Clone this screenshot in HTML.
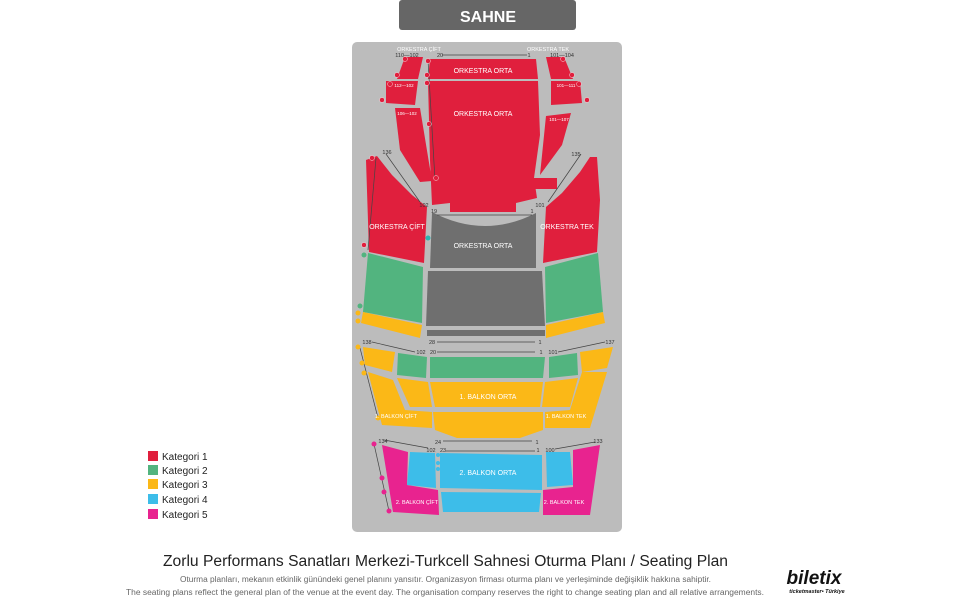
<!DOCTYPE html>
<html><head><meta charset="utf-8"><style>
html,body{margin:0;padding:0;background:#fff;}
svg{display:block;font-family:"Liberation Sans",sans-serif;}
</style></head><body>
<svg width="975" height="600" viewBox="0 0 975 600" xmlns="http://www.w3.org/2000/svg">
<rect x="399" y="0" width="177" height="30" rx="3" fill="#666"/>
<text x="488" y="22" text-anchor="middle" font-size="16" font-weight="bold" fill="#fff">SAHNE</text>
<rect x="352" y="42" width="270" height="490" rx="5" fill="#bcbcbc"/>

<g fill="#e01f3d">
<polygon points="430,59 536,59 538,79 428,79"/>
<polygon points="428,81 538,81 540,135 534,178 537,198 516,203 516,213 450,213 450,203 432,205 430,160"/>
<polygon points="405,57 423,57 418,79 397,79"/>
<polygon points="386,81 418,81 415,105 386,103"/>
<polygon points="395,108 420,108 432,181 420,182 400,150"/>
<polygon points="546,57 564,57 573,79 551,79"/>
<polygon points="551,81 580,81 582,103 551,105"/>
<polygon points="546,116 571,113 562,145 540,175"/>
<rect x="531" y="178" width="26" height="11"/>
<polygon points="366,160 377,156 392,175 412,195 427,207 424,263 369,252"/>
<polygon points="546,207 562,193 580,172 590,157 597,157 600,200 597,252 543,263"/>
</g>
<g fill="#6f6f6f">
<path d="M432,213 L536,213 L536,268 L430,268 Z" />
<path d="M428,271 L542,271 L545,326 L426,326 Z"/>
<rect x="427" y="330" width="118" height="6"/>
</g>
<path d="M432,212 Q485,240 538,212 Z" fill="#bcbcbc"/>
<g fill="#52b47f">
<polygon points="368,253 423,267 422,323 363,312"/>
<polygon points="545,267 598,253 603,312 546,323"/>
<polygon points="398,353 427,357 426,378 397,375"/>
<polygon points="430,357 545,357 543,378 430,378"/>
<polygon points="549,357 577,353 578,375 549,378"/>
</g>
<g fill="#fbb817">
<polygon points="363,312 422,325 420,338 361,323"/>
<polygon points="546,325 603,312 605,323 546,338"/>
<polygon points="363,347 395,352 392,372 365,365"/>
<polygon points="580,352 613,347 607,368 582,372"/>
<polygon points="368,372 393,380 405,410 432,412 432,428 382,425"/>
<polygon points="397,378 428,382 432,407 410,407"/>
<polygon points="430,382 543,382 540,407 435,407"/>
<polygon points="433,412 543,412 543,430 520,438 457,438 435,430"/>
<polygon points="545,382 578,378 570,407 542,407"/>
<polygon points="582,372 607,372 590,428 545,428 545,412 570,410"/>
</g>
<g fill="#e8238f">
<polygon points="382,445 408,452 407,485 438,490 439,515 393,512"/>
<polygon points="573,450 600,445 590,515 543,515 543,490 573,487"/>
</g>
<g fill="#3dbde9">
<polygon points="410,452 435,453 436,488 407,485"/>
<polygon points="440,453 542,455 542,490 440,488"/>
<polygon points="441,492 541,493 539,512 443,512"/>
<polygon points="546,452 570,452 573,485 547,487"/>
</g>

<g stroke="#444" stroke-width="0.7">
<line x1="442" y1="55" x2="527" y2="55"/>
<line x1="376" y1="158" x2="368" y2="250"/>
<line x1="386" y1="154" x2="420" y2="202"/>
<line x1="581" y1="154" x2="548" y2="202"/>
<line x1="437" y1="215" x2="532" y2="215"/>
<line x1="437" y1="342" x2="535" y2="342"/>
<line x1="372" y1="342" x2="415" y2="352"/>
<line x1="437" y1="352" x2="535" y2="352"/>
<line x1="558" y1="352" x2="605" y2="342"/>
<line x1="360" y1="348" x2="378" y2="418"/>
<line x1="443" y1="441" x2="532" y2="441"/>
<line x1="384" y1="440" x2="428" y2="448"/>
<line x1="446" y1="451" x2="535" y2="451"/>
<line x1="555" y1="449" x2="595" y2="442"/>
<line x1="374" y1="444" x2="389" y2="511"/>
<line x1="428" y1="60" x2="435" y2="180"/>
</g>

<g fill="#e01f3d" stroke="#fff" stroke-width="0.4">
<circle cx="405" cy="59" r="2.5"/><circle cx="397" cy="75" r="2.5"/><circle cx="390" cy="84" r="2.5"/><circle cx="382" cy="100" r="2.5"/>
<circle cx="428" cy="61" r="2.5"/><circle cx="427" cy="75" r="2.5"/><circle cx="427" cy="83" r="2.5"/><circle cx="429" cy="124" r="2.5"/><circle cx="436" cy="178" r="2.5"/>
<circle cx="563" cy="59" r="2.5"/><circle cx="572" cy="75" r="2.5"/><circle cx="579" cy="84" r="2.5"/><circle cx="587" cy="100" r="2.5"/>
<circle cx="372" cy="158" r="2.5"/><circle cx="364" cy="245" r="2.5"/>
</g>
<circle cx="428" cy="238" r="2.5" fill="#2bb3b0"/>
<circle cx="364" cy="255" r="2.5" fill="#52b47f"/><circle cx="360" cy="306" r="2.5" fill="#52b47f"/>
<g fill="#fbb817"><circle cx="358" cy="313" r="2.5"/><circle cx="358" cy="321" r="2.5"/><circle cx="358" cy="347" r="2.5"/><circle cx="362" cy="363" r="2.5"/><circle cx="364" cy="373" r="2.5"/><circle cx="378" cy="418" r="2.5"/></g>
<g fill="#3dbde9"><circle cx="438" cy="455" r="2"/><circle cx="438" cy="463" r="2"/><circle cx="438" cy="469" r="2"/></g>
<g fill="#e8238f"><circle cx="374" cy="444" r="2.5"/><circle cx="382" cy="478" r="2.5"/><circle cx="384" cy="492" r="2.5"/><circle cx="389" cy="511" r="2.5"/></g>

<g fill="#fff" font-size="7" text-anchor="middle">
<text x="419" y="51" font-size="5.5">ORKESTRA ÇİFT</text>
<text x="548" y="51" font-size="5.5">ORKESTRA TEK</text>
<text x="483" y="73">ORKESTRA ORTA</text>
<text x="483" y="116">ORKESTRA ORTA</text>
<text x="397" y="229">ORKESTRA ÇİFT</text>
<text x="567" y="229">ORKESTRA TEK</text>
<text x="483" y="248">ORKESTRA ORTA</text>
<text x="488" y="399">1. BALKON ORTA</text>
<text x="396" y="418" font-size="5.5">1. BALKON ÇİFT</text>
<text x="566" y="418" font-size="5.5">1. BALKON TEK</text>
<text x="488" y="475">2. BALKON ORTA</text>
<text x="417" y="504" font-size="5.5">2. BALKON ÇİFT</text>
<text x="564" y="504" font-size="5.5">2. BALKON TEK</text>
<text x="404" y="87" font-size="4.5">112—102</text>
<text x="566" y="87" font-size="4.5">101—111</text>
<text x="407" y="115" font-size="4.5">106—102</text>
<text x="559" y="121" font-size="4.5">101—107</text>
</g>
<g fill="#333" font-size="5.5" text-anchor="middle">
<text x="407" y="57">110—102</text><text x="440" y="57">20</text><text x="529" y="57">1</text><text x="562" y="57">101—104</text>
<text x="387" y="154">136</text><text x="576" y="156">135</text>
<text x="424" y="207">102</text><text x="540" y="207">101</text>
<text x="434" y="213">19</text><text x="532" y="213">1</text>
<text x="432" y="344">28</text><text x="540" y="344">1</text>
<text x="367" y="344">138</text><text x="421" y="354">102</text><text x="433" y="354">20</text><text x="541" y="354">1</text><text x="553" y="354">101</text><text x="610" y="344">137</text>
<text x="438" y="444">24</text><text x="537" y="444">1</text>
<text x="383" y="443">134</text><text x="431" y="452">102</text><text x="443" y="452">23</text><text x="538" y="452">1</text><text x="550" y="452">100</text><text x="598" y="443">133</text>
</g>

<g font-size="10" fill="#222">
<rect x="148" y="451" width="10" height="10" fill="#e01f3d"/><text x="162" y="460">Kategori 1</text>
<rect x="148" y="465" width="10" height="10" fill="#52b47f"/><text x="162" y="474">Kategori 2</text>
<rect x="148" y="479" width="10" height="10" fill="#fbb817"/><text x="162" y="488">Kategori 3</text>
<rect x="148" y="494" width="10" height="10" fill="#3dbde9"/><text x="162" y="503">Kategori 4</text>
<rect x="148" y="509" width="10" height="10" fill="#e8238f"/><text x="162" y="518">Kategori 5</text>
</g>

<text x="163" y="566" font-size="15.5" fill="#222" textLength="565" lengthAdjust="spacingAndGlyphs">Zorlu Performans Sanatları Merkezi-Turkcell Sahnesi Oturma Planı / Seating Plan</text>
<text x="180" y="582" font-size="8" fill="#666" textLength="531" lengthAdjust="spacingAndGlyphs">Oturma planları, mekanın etkinlik günündeki genel planını yansıtır. Organizasyon firması oturma planı ve yerleşiminde değişiklik hakkına sahiptir.</text>
<text x="126" y="595" font-size="8" fill="#666" textLength="638" lengthAdjust="spacingAndGlyphs">The seating plans reflect the general plan of the venue at the event day. The organisation company reserves the right to change seating plan and all relative arrangements.</text>
<text x="814" y="584" text-anchor="middle" font-size="19" font-weight="bold" font-style="italic" fill="#111">biletix</text>
<text x="817" y="593" text-anchor="middle" font-size="5.5" font-weight="bold" font-style="italic" fill="#111">ticketmaster• Türkiye</text>
</svg>
</body></html>
